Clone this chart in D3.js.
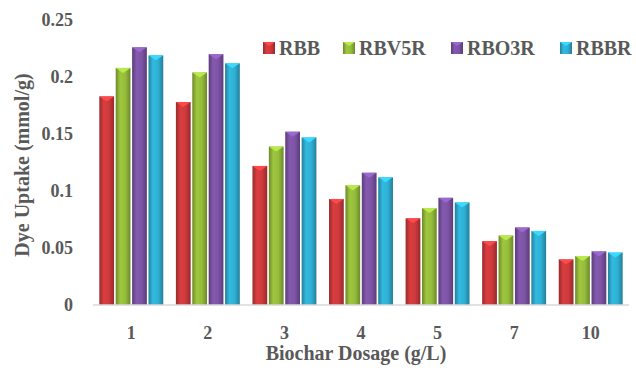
<!DOCTYPE html>
<html>
<head>
<meta charset="utf-8">
<script src="https://cdn.jsdelivr.net/npm/d3@7"></script>
<style>
  body { margin: 0; background: #fff; }
</style>
</head>
<body>
<script>
// data
const dosages = ["1", "2", "3", "4", "5", "7", "10"];
const series = ["RBB", "RBV5R", "RBO3R", "RBBR"];
const rbb   = [0.183, 0.178, 0.122, 0.093, 0.076, 0.056, 0.040];
const rbv5r = [0.208, 0.204, 0.139, 0.105, 0.085, 0.061, 0.043];
const rbo3r = [0.226, 0.220, 0.152, 0.116, 0.094, 0.068, 0.047];
const rbbr  = [0.219, 0.212, 0.147, 0.112, 0.090, 0.065, 0.046];
const yTicks = [0, 0.05, 0.1, 0.15, 0.2, 0.25];
const yTickLabels = ["0", "0.05", "0.1", "0.15", "0.2", "0.25"];

const colors = {RBB: "#cf3a3c", RBV5R: "#96bd3b", RBO3R: "#7d54a6", RBBR: "#2fb0d4"};
const FONT = "'Liberation Serif', 'Times New Roman', 'DejaVu Serif', serif";

const W = 636, H = 376;
const margin = {top: 20, right: 7, bottom: 71, left: 93};
const w = W - margin.left - margin.right;
const h = H - margin.top - margin.bottom;

const table = dosages.map((d, i) => ({
  dosage: d,
  values: [rbb[i], rbv5r[i], rbo3r[i], rbbr[i]].map((v, j) => ({key: series[j], value: v}))
}));

let svg = d3.select("body").append("svg")
    .attr("width", W)
    .attr("height", H)
    .attr("font-family", FONT)
    .attr("font-weight", "bold");

// gradients for the cylinder look
let defs = svg.append("defs");
series.forEach(s => {
  let c = d3.color(colors[s]);
  let g = defs.append("linearGradient")
      .attr("id", "g_" + s)
      .attr("x1", "0%").attr("x2", "100%").attr("y1", "0%").attr("y2", "0%");
  g.append("stop").attr("offset", "0%").attr("stop-color", c.darker(0.9));
  g.append("stop").attr("offset", "30%").attr("stop-color", c.brighter(0.15));
  g.append("stop").attr("offset", "65%").attr("stop-color", c);
  g.append("stop").attr("offset", "100%").attr("stop-color", c.darker(0.9));
});

let chart = svg.append("g")
    .attr("transform", "translate(" + margin.left + "," + margin.top + ")");

// scales
let x = d3.scaleBand()
    .domain(dosages)
    .range([0, w])
    .paddingInner(0.165)
    .paddingOuter(0.0825);

let x1 = d3.scaleBand()
    .domain(series)
    .range([0, x.bandwidth()])
    .paddingInner(0.1);

let y = d3.scaleLinear()
    .domain([0, 0.25])
    .range([h, 0]);

// y tick labels (no axis line)
chart.selectAll(".ytick")
    .data(yTicks)
    .enter()
    .append("text")
    .attr("class", "ytick")
    .attr("x", -20)
    .attr("y", d => y(d))
    .attr("dy", "0.35em")
    .attr("text-anchor", "end")
    .attr("fill", "#595959")
    .style("font-size", "18px")
    .text((d, i) => yTickLabels[i]);

// bars
let groups = chart.selectAll(".grp")
    .data(table)
    .enter()
    .append("g")
    .attr("class", "grp")
    .attr("transform", d => "translate(" + x(d.dosage) + ",0)");

groups.selectAll("rect")
    .data(d => d.values)
    .enter()
    .append("rect")
    .attr("x", d => x1(d.key))
    .attr("y", d => y(d.value))
    .attr("width", x1.bandwidth())
    .attr("height", d => h - y(d.value))
    .style("fill", d => "url(#g_" + d.key + ")");

// bevel cap on top of each bar
groups.selectAll("path")
    .data(d => d.values)
    .enter()
    .append("path")
    .attr("d", d => {
      let x0 = x1(d.key), bw = x1.bandwidth(), t = y(d.value);
      return "M" + x0 + "," + t + "L" + (x0 + bw) + "," + t + "L" + (x0 + bw / 2) + "," + (t + 5) + "Z";
    })
    .style("fill", d => d3.color(colors[d.key]).brighter(0.6));

// x axis line
chart.append("line")
    .attr("x1", 0).attr("x2", w)
    .attr("y1", h).attr("y2", h)
    .attr("stroke", "#d9d9d9")
    .attr("stroke-width", 1.5);

// x tick labels
chart.selectAll(".xtick")
    .data(dosages)
    .enter()
    .append("text")
    .attr("class", "xtick")
    .attr("x", d => x(d) + x.bandwidth() / 2)
    .attr("y", h + 34)
    .attr("text-anchor", "middle")
    .attr("fill", "#595959")
    .style("font-size", "18px")
    .text(d => d);

// axis titles
svg.append("text")
    .attr("x", 356)
    .attr("y", 360)
    .attr("text-anchor", "middle")
    .attr("fill", "#595959")
    .style("font-size", "20px")
    .text("Biochar Dosage (g/L)");

svg.append("text")
    .attr("transform", "translate(29,165) rotate(-90)")
    .attr("text-anchor", "middle")
    .attr("fill", "#595959")
    .style("font-size", "20px")
    .text("Dye Uptake (mmol/g)");

// legend
const legendX = [263, 343, 451, 560];
let legend = svg.selectAll(".legend")
    .data(series)
    .enter()
    .append("g")
    .attr("class", "legend")
    .attr("transform", (d, i) => "translate(" + legendX[i] + ",42)");

legend.append("rect")
    .attr("width", 12)
    .attr("height", 12)
    .style("fill", d => "url(#g_" + d + ")");

legend.append("path")
    .attr("d", "M0,0L12,0L6,4Z")
    .style("fill", d => d3.color(colors[d]).brighter(0.6));

legend.append("text")
    .attr("x", 16)
    .attr("y", 13)
    .attr("fill", "#595959")
    .style("font-size", "20px")
    .text(d => d);
</script>
</body>
</html>
